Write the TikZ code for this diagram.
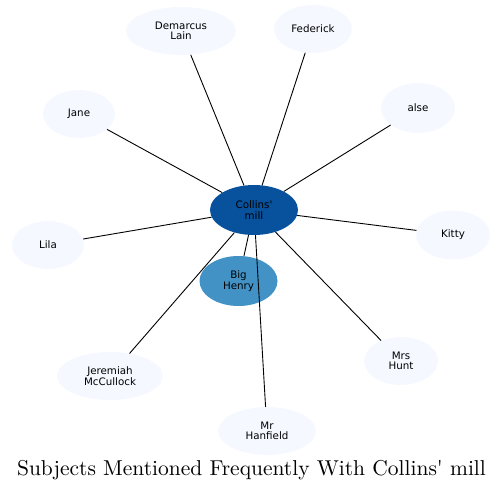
\documentclass[tikz,border=0pt]{standalone}
\usepackage{fontspec}
\newfontfamily\labelfont{DejaVu Sans}
\newfontfamily\titlefont{lmroman10-regular}[Extension=.otf]
\usetikzlibrary{shapes.geometric}
\definecolor{leaf}{HTML}{F5F9FF}
\definecolor{hub}{HTML}{08519C}
\definecolor{mid}{HTML}{4292C6}
\tikzset{
  ent/.style={ellipse, fill=leaf, inner sep=0pt, align=center,
    font=\labelfont\fontsize{10.3}{10.5}\selectfont},
  edge/.style={draw=black, line width=0.9pt}
}
\begin{document}
\begin{tikzpicture}[x=1pt,y=-1pt]
\useasboundingbox (0,0) rectangle (503,492);
\node[ent, fill=hub, minimum width=88, minimum height=50] (c) at (254,210) {Collins'\\mill};
\node[ent, fill=mid, minimum width=78, minimum height=50] (bh) at (238.5,281) {Big\\Henry};
\node[ent, minimum width=110, minimum height=48] (dl) at (181,31) {Demarcus\\Lain};
\node[ent, minimum width=78, minimum height=48] (fe) at (313,29) {Federick};
\node[ent, minimum width=72, minimum height=48] (ja) at (79,114) {Jane};
\node[ent, minimum width=74, minimum height=50] (al) at (418,108) {alse};
\node[ent, minimum width=74, minimum height=49] (ki) at (453,235) {Kitty};
\node[ent, minimum width=72, minimum height=48] (li) at (48,245) {Lila};
\node[ent, minimum width=106, minimum height=48] (jm) at (110,376) {Jeremiah\\McCullock};
\node[ent, minimum width=74, minimum height=48] (mh) at (401,361) {Mrs\\Hunt};
\node[ent, minimum width=98, minimum height=48] (mf) at (267,431) {Mr\\Hanfield};
\foreach \t in {bh,dl,fe,ja,al,ki,li,jm,mh,mf} \draw[edge] (c) -- (\t);
\node[anchor=base, font=\titlefont\fontsize{21.5}{24}\selectfont] (title) at (251.5,475) {Subjects Mentioned Frequently With Collins' mill};
\end{tikzpicture}
\end{document}
